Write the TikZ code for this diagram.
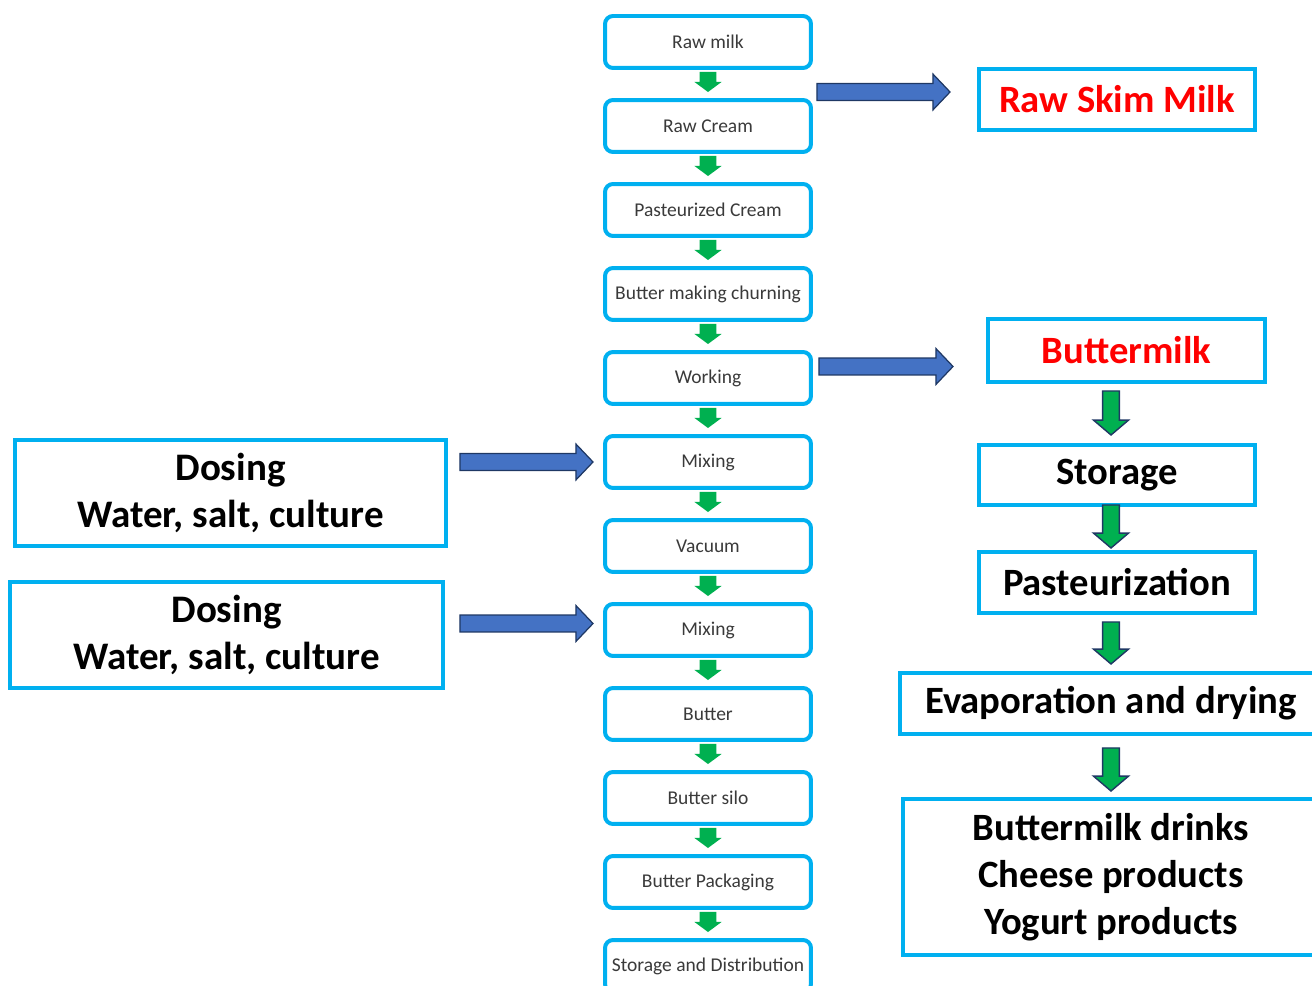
\documentclass[tikz,border=0pt]{standalone}
\usepackage{fontspec}
\setmainfont{Carlito}
\usetikzlibrary{calc}
\definecolor{boxcyan}{HTML}{00B0F0}
\definecolor{arrowblue}{HTML}{4472C4}
\definecolor{arrowedge}{HTML}{1F3864}
\definecolor{arrowgreen}{HTML}{00B050}
\definecolor{textgray}{HTML}{3A3A3A}
% horizontal block arrow: style, from, to
\newcommand{\hfat}[3]{%
  \draw[#1] let \p1=#2, \p2=#3 in
    (\x1,\y1+4.8pt) -- (\x2-9.7pt,\y1+4.8pt) -- (\x2-9.7pt,\y1+10.2pt) -- (\x2,\y1)
    -- (\x2-9.7pt,\y1-10.2pt) -- (\x2-9.7pt,\y1-4.8pt) -- (\x1,\y1-4.8pt) -- cycle;}
% vertical block arrow: style, from, to, shaft half width, head half width, head length
\newcommand{\vfat}[6]{%
  \draw[#1] let \p1=#2, \p2=#3 in
    (\x1-#4,\y1) -- (\x1-#4,\y2+#6) -- (\x1-#5,\y2+#6) -- (\x1,\y2)
    -- (\x1+#5,\y2+#6) -- (\x1+#4,\y2+#6) -- (\x1+#4,\y1) -- cycle;}
\begin{document}
\begin{tikzpicture}[
x=0.02cm,y=-0.02cm,
stepbox/.style={draw=boxcyan,line width=0.08cm,rounded corners=0.16cm,fill=white,
  minimum width=4.12cm,minimum height=1.04cm,inner sep=0pt,
  text=textgray,font=\fontsize{11.1}{13}\selectfont},
sidebox/.style={draw=boxcyan,line width=0.08cm,fill=white,inner sep=0pt,align=center,
  font=\bfseries\fontsize{22}{26.6}\selectfont},
dosebox/.style={sidebox,font=\bfseries\fontsize{22.2}{26.7}\selectfont},
bluearrow/.style={fill=arrowblue,draw=arrowedge,line width=0.7pt,line join=miter},
greenarrow/.style={fill=arrowgreen,draw=arrowedge,line width=0.8pt,line join=miter},
smallarrow/.style={fill=arrowgreen,draw=none}
]
\clip (0,0) rectangle (1312,986);
% main line
\node[stepbox] (m1) at (708,42) {Raw milk};
\node[stepbox] (m2) at (708,126) {Raw Cream};
\node[stepbox] (m3) at (708,210) {Pasteurized Cream};
\node[stepbox] (m4) at (708,294) {Butter making churning};
\node[stepbox] (m5) at (708,378) {Working};
\node[stepbox] (m6) at (708,462) {Mixing};
\node[stepbox] (m7) at (708,546) {Vacuum};
\node[stepbox] (m8) at (708,630) {Mixing};
\node[stepbox] (m9) at (708,714) {Butter};
\node[stepbox] (m10) at (708,798) {Butter silo};
\node[stepbox] (m11) at (708,882) {Butter Packaging};
\node[stepbox] (m12) at (708,966) {Storage and Distribution};
\foreach \a/\b in {m1/m2,m2/m3,m3/m4,m4/m5,m5/m6,m6/m7,m7/m8,m8/m9,m9/m10,m10/m11,m11/m12}
  \vfat{smallarrow}{($(\a.south)+(0,2)$)}{($(\b.north)+(0,-6)$)}{4.8pt}{7.7pt}{5.7pt};
% dosing
\node[dosebox,minimum width=8.62cm,minimum height=2.12cm] (d1) at (230.5,493) {Dosing\\Water, salt, culture};
\node[dosebox,minimum width=8.66cm,minimum height=2.12cm] (d2) at (226.5,635) {Dosing\\Water, salt, culture};
% side products
\node[sidebox,text=red,minimum width=5.52cm,minimum height=1.22cm] (r1) at (1117,99.5) {Raw Skim Milk};
\node[sidebox,text=red,minimum width=5.54cm,minimum height=1.26cm] (r2) at (1126.5,350.5) {Buttermilk};
\node[sidebox,minimum width=5.52cm,minimum height=1.2cm] (r3) at (1117,475) {Storage};
\node[sidebox,minimum width=5.52cm,minimum height=1.22cm] (r4) at (1117,582.5) {Pasteurization};
\node[sidebox,minimum width=8.44cm,minimum height=1.22cm] (r5) at (1111,703.5) {Evaporation and drying};
\node[sidebox,minimum width=8.32cm,minimum height=3.12cm] (r6) at (1111,877) {Buttermilk drinks\\Cheese products\\Yogurt products};
% blue arrows
\hfat{bluearrow}{($(m2.north east)+(4,-6)$)}{($(r1.west)+(-27,0)$)};
\hfat{bluearrow}{($(m5.east)+(6,-11.5)$)}{($(r2.west)+(-33,0)$)};
\hfat{bluearrow}{($(d1.east |- m6)+(12,0)$)}{($(m6.west)+(-10,0)$)};
\hfat{bluearrow}{($(d2.east |- m8)+(15,-6.5)$)}{($(m8.west)+(-10,0)$)};
% green arrows
\vfat{greenarrow}{($(r2.south -| r5)+(0,7)$)}{($(r3.north -| r5)+(0,-8)$)}{4.8pt}{10pt}{8.5pt};
\vfat{greenarrow}{($(r3.south -| r5)+(0,-2)$)}{($(r4.north -| r5)+(0,-2)$)}{4.8pt}{10pt}{8.5pt};
\vfat{greenarrow}{($(r4.south -| r5)+(0,7)$)}{($(r5.north)+(0,-7)$)}{4.8pt}{10pt}{8.5pt};
\vfat{greenarrow}{($(r5.south)+(0,12)$)}{($(r6.north)+(0,-6)$)}{4.8pt}{10pt}{8.5pt};
\end{tikzpicture}
\end{document}
